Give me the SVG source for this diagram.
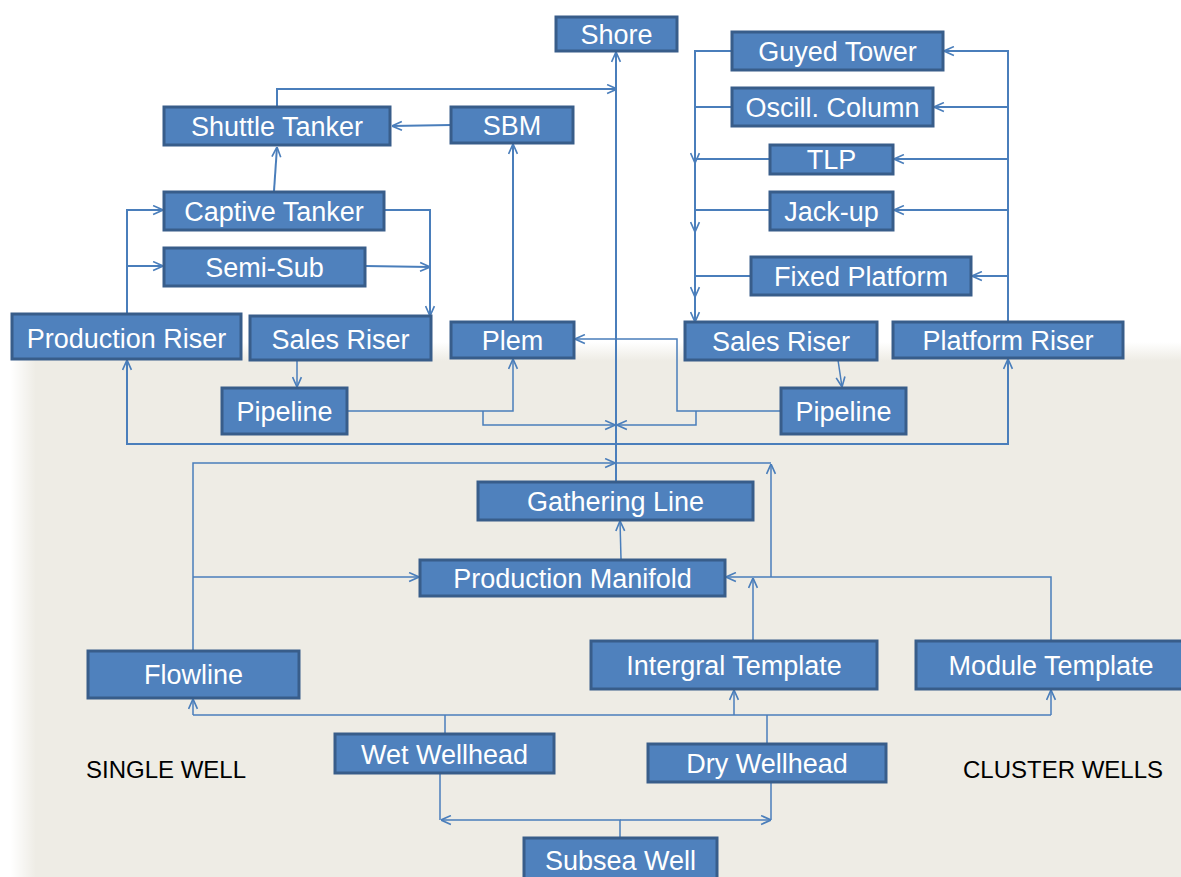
<svg xmlns="http://www.w3.org/2000/svg" width="1181" height="877" viewBox="0 0 1181 877">
<style>
.n rect{fill:#4F81BD;stroke:#385D8A;stroke-width:3}
.n text{fill:#FFFFFF;font-family:"Liberation Sans",Arial,sans-serif;font-size:27px;text-anchor:middle}
.c path{fill:none;stroke:#4A7EBB;stroke-width:2}
.c path.t{stroke-width:1.5}
.lbl{fill:#000;font-family:"Liberation Sans",Arial,sans-serif;font-size:24px}
</style>
<defs>
<marker id="a" viewBox="0 0 10 10" refX="10" refY="5" markerWidth="11" markerHeight="11" markerUnits="userSpaceOnUse" orient="auto">
<path d="M1,1 L10,5 L1,9" fill="none" stroke="#4A7EBB" stroke-width="1.5"/>
</marker>
<linearGradient id="vg" x1="0" y1="0" x2="0" y2="1">
<stop offset="0" stop-color="#FFFFFF"/>
<stop offset="0.035" stop-color="#EEECE5"/>
<stop offset="1" stop-color="#EEECE5"/>
</linearGradient>
<linearGradient id="hg" x1="0" y1="0" x2="1" y2="0">
<stop offset="0" stop-color="#FFFFFF" stop-opacity="1"/>
<stop offset="0.3" stop-color="#FFFFFF" stop-opacity="1"/>
<stop offset="1" stop-color="#FFFFFF" stop-opacity="0"/>
</linearGradient>
</defs>
<rect x="0" y="0" width="1181" height="877" fill="#FFFFFF"/>
<rect x="0" y="342" width="1181" height="535" fill="url(#vg)"/>
<rect x="0" y="342" width="36" height="535" fill="url(#hg)"/>

<g id="connectors" class="c">
<path d="M616,481 L616,52" marker-end="url(#a)"/>
<path d="M277,107 L277,89 L617,89" marker-end="url(#a)"/>
<path d="M451,125 L392,126" marker-end="url(#a)"/>
<path d="M274,191 L277,147" marker-end="url(#a)"/>
<path d="M127,313 L127,210 L163,210" marker-end="url(#a)"/>
<path d="M127,266 L163,266" marker-end="url(#a)"/>
<path d="M384,210 L430,210 L430,316" marker-end="url(#a)"/>
<path d="M365,266 L430,267" marker-end="url(#a)"/>
<path class="t" d="M297,360 L297,387" marker-end="url(#a)"/>
<path class="t" d="M347,411 L513,411 L513,359" marker-end="url(#a)"/>
<path class="t" d="M483,411 L483,425 L615,425" marker-end="url(#a)"/>
<path class="t" d="M781,411 L677,411 L677,339 L575,339" marker-end="url(#a)"/>
<path class="t" d="M696,411 L696,425 L617,425" marker-end="url(#a)"/>
<path class="t" d="M838,360 L842,387" marker-end="url(#a)"/>
<path d="M513,321 L513,144" marker-end="url(#a)"/>
<path d="M616,444 L127,444 L127,360" marker-end="url(#a)"/>
<path d="M616,444 L1008,444 L1008,359" marker-end="url(#a)"/>
<path class="t" d="M193,650 L193,463 L615,463" marker-end="url(#a)"/>
<path class="t" d="M616,463 L771,463"/>
<path class="t" d="M771,577 L771,464" marker-end="url(#a)"/>
<path class="t" d="M193,577 L419,577" marker-end="url(#a)"/>
<path class="t" d="M621,559 L620,521" marker-end="url(#a)"/>
<path class="t" d="M1051,640 L1051,577 L726,577" marker-end="url(#a)"/>
<path class="t" d="M753,640 L753,578" marker-end="url(#a)"/>
<path class="t" d="M193,715 L1051,715"/>
<path class="t" d="M193,715 L193,699" marker-end="url(#a)"/>
<path class="t" d="M734,715 L734,690" marker-end="url(#a)"/>
<path class="t" d="M1051,715 L1051,690" marker-end="url(#a)"/>
<path class="t" d="M445,733 L445,715"/>
<path class="t" d="M767,743 L767,715"/>
<path class="t" d="M440,773 L440,820"/>
<path class="t" d="M771,782 L771,820"/>
<path class="t" d="M620,837 L620,820 L441,820" marker-end="url(#a)"/>
<path class="t" d="M620,820 L771,820" marker-end="url(#a)"/>
<path d="M732,51 L695,51 L695,163" marker-end="url(#a)"/>
<path d="M732,107 L695,107"/>
<path d="M770,159 L695,159"/>
<path d="M695,163 L695,232" marker-end="url(#a)"/>
<path d="M770,210 L695,210"/>
<path d="M695,232 L695,297" marker-end="url(#a)"/>
<path d="M751,276 L695,276"/>
<path d="M695,297 L695,322" marker-end="url(#a)"/>
<path d="M1008,321 L1008,51 L944,51" marker-end="url(#a)"/>
<path d="M1008,107 L934,107" marker-end="url(#a)"/>
<path d="M1008,159 L894,159" marker-end="url(#a)"/>
<path d="M1008,210 L894,210" marker-end="url(#a)"/>
<path d="M1008,276 L972,276" marker-end="url(#a)"/>
</g>

<g id="shore" class="n"><rect x="556" y="17" width="121" height="34"/><text x="616.5" y="44">Shore</text></g>
<g id="guyed-tower" class="n"><rect x="732" y="32" width="211" height="38"/><text x="837.5" y="61">Guyed Tower</text></g>
<g id="oscill-column" class="n"><rect x="732" y="88" width="201" height="38"/><text x="832.5" y="117">Oscill. Column</text></g>
<g id="tlp" class="n"><rect x="770" y="145" width="123" height="29"/><text x="831.5" y="169">TLP</text></g>
<g id="jack-up" class="n"><rect x="770" y="192" width="123" height="38"/><text x="831.5" y="221">Jack-up</text></g>
<g id="fixed-platform" class="n"><rect x="751" y="257" width="220" height="38"/><text x="861" y="286">Fixed Platform</text></g>
<g id="shuttle-tanker" class="n"><rect x="164" y="107" width="226" height="38"/><text x="277" y="136">Shuttle Tanker</text></g>
<g id="sbm" class="n"><rect x="451" y="107" width="122" height="36"/><text x="512" y="135">SBM</text></g>
<g id="captive-tanker" class="n"><rect x="164" y="192" width="220" height="38"/><text x="274" y="221">Captive Tanker</text></g>
<g id="semi-sub" class="n"><rect x="164" y="248" width="201" height="38"/><text x="264.5" y="277">Semi-Sub</text></g>
<g id="production-riser" class="n"><rect x="12" y="314" width="229" height="45"/><text x="126.5" y="348">Production Riser</text></g>
<g id="sales-riser-left" class="n"><rect x="250" y="316" width="181" height="44"/><text x="340.5" y="349">Sales Riser</text></g>
<g id="plem" class="n"><rect x="451" y="322" width="123" height="36"/><text x="512.5" y="350">Plem</text></g>
<g id="sales-riser-right" class="n"><rect x="685" y="322" width="192" height="38"/><text x="781" y="351">Sales Riser</text></g>
<g id="platform-riser" class="n"><rect x="893" y="322" width="230" height="36"/><text x="1008" y="350">Platform Riser</text></g>
<g id="pipeline-left" class="n"><rect x="222" y="388" width="125" height="46"/><text x="284.5" y="421">Pipeline</text></g>
<g id="pipeline-right" class="n"><rect x="781" y="388" width="125" height="46"/><text x="843.5" y="421">Pipeline</text></g>
<g id="gathering-line" class="n"><rect x="478" y="482" width="275" height="38"/><text x="615.5" y="511">Gathering Line</text></g>
<g id="production-manifold" class="n"><rect x="420" y="560" width="305" height="36"/><text x="572.5" y="588">Production Manifold</text></g>
<g id="flowline" class="n"><rect x="88" y="651" width="211" height="47"/><text x="193.5" y="684">Flowline</text></g>
<g id="intergral-template" class="n"><rect x="591" y="641" width="286" height="48"/><text x="734" y="675">Intergral Template</text></g>
<g id="module-template" class="n"><rect x="916" y="641" width="270" height="48"/><text x="1051" y="675">Module Template</text></g>
<g id="wet-wellhead" class="n"><rect x="335" y="734" width="219" height="39"/><text x="444.5" y="764">Wet Wellhead</text></g>
<g id="dry-wellhead" class="n"><rect x="648" y="744" width="238" height="38"/><text x="767" y="773">Dry Wellhead</text></g>
<g id="subsea-well" class="n"><rect x="524" y="838" width="193" height="45"/><text x="620.5" y="870">Subsea Well</text></g>

<text class="lbl" x="86" y="778">SINGLE WELL</text>
<text class="lbl" x="963" y="778">CLUSTER WELLS</text>
</svg>
